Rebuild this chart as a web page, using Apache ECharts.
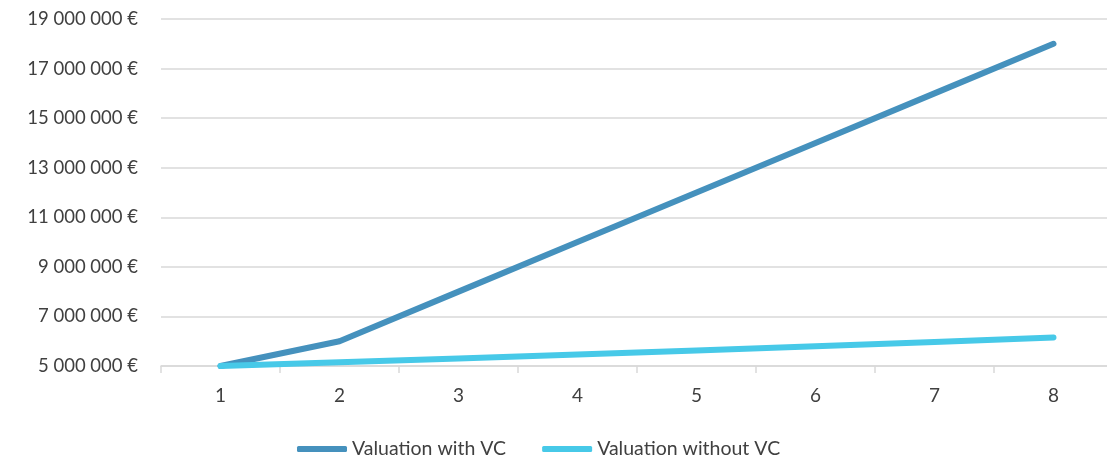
<!DOCTYPE html>
<html>
<head>
<meta charset="utf-8">
<script src="https://cdn.jsdelivr.net/npm/echarts@6/dist/echarts.min.js"></script>
<style>
  html, body { margin: 0; padding: 0; background: #ffffff; overflow: hidden; }
  /* the drawing is a touch wider than the view, so the plot runs off the right edge */
  #chart { width: 1113px; height: 457px; }
</style>
</head>
<body>
<div id="chart"></div>
<script>
// Years since the investment round
const years = ['1', '2', '3', '4', '5', '6', '7', '8'];

// Company valuation, in euros
const withVC = [5000000, 6000000, 8000000, 10000000, 12000000, 14000000, 16000000, 18000000];
const withoutVC = [5000000, 5150000, 5305000, 5464000, 5628000, 5796000, 5970000, 6149000];

const seriesNames = ['Valuation with VC', 'Valuation without VC'];
const seriesColors = ['#4591bd', '#47c9e8'];

const FONT = 'Lato, "Open Sans", sans-serif';

function euro(v) {
  return String(Math.round(v)).replace(/\B(?=(\d{3})+(?!\d))/g, ' ') + ' €';
}

const chart = echarts.init(document.getElementById('chart'), null, { renderer: 'canvas' });

chart.setOption({
  animation: false,
  color: seriesColors,
  grid: { left: 161, right: 0, top: 19, bottom: 91, containLabel: false },
  legend: {
    bottom: -7,
    left: 292,
    icon: 'roundRect',
    itemWidth: 50,
    itemHeight: 6,
    itemGap: 36,
    textStyle: { fontFamily: FONT, fontSize: 19.5, color: '#404040' },
    data: seriesNames
  },
  xAxis: {
    type: 'category',
    data: years,
    boundaryGap: true,
    axisLine: { lineStyle: { color: '#d9d9d9', width: 1.5 } },
    axisTick: { show: true, length: 7, lineStyle: { color: '#d9d9d9', width: 1.5 } },
    axisLabel: { fontFamily: FONT, fontSize: 19, color: '#404040', margin: 20 }
  },
  yAxis: {
    type: 'value',
    min: 5000000,
    max: 19000000,
    interval: 2000000,
    axisLine: { show: false },
    axisTick: { show: false },
    splitLine: { lineStyle: { color: '#d9d9d9', width: 1.5 } },
    axisLabel: {
      fontFamily: FONT, fontSize: 18.5, color: '#404040', margin: 23,
      formatter: euro
    }
  },
  series: [
    {
      name: seriesNames[0],
      type: 'line',
      data: withVC,
      showSymbol: false,
      symbol: 'none',
      lineStyle: { width: 6, cap: 'round', join: 'round' },
      z: 3
    },
    {
      name: seriesNames[1],
      type: 'line',
      data: withoutVC,
      showSymbol: false,
      symbol: 'none',
      lineStyle: { width: 6, cap: 'round', join: 'round' },
      z: 4
    }
  ]
});
</script>
</body>
</html>
